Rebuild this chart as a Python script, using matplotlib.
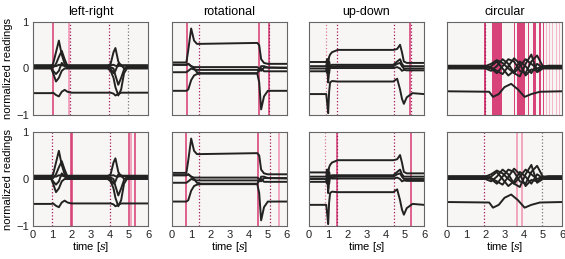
import matplotlib
matplotlib.use("Agg")
import matplotlib.pyplot as plt

plt.rcParams['font.family'] = ['Liberation Sans', 'DejaVu Sans']
plt.rcParams['mathtext.fontset'] = 'dejavuserif'

titles = ['left-right', 'rotational', 'up-down', 'circular']

# ---- sensor channels, key points ----
lr_t = [0, 0.95, 1.05, 1.2, 1.35, 1.5, 1.65, 1.8, 2.0, 3.9, 4.05, 4.2, 4.3, 4.45, 4.6, 4.75, 4.9, 6]
lr_ch = [
    [0.06, 0.06, 0.1, 0.35, 0.6, 0.3, 0.1, 0.06, 0.06, 0.06, 0.1, 0.35, 0.44, 0.15, 0.05, 0.06, 0.06, 0.06],
    [0.04, 0.04, 0.02, 0.1, 0.25, 0.38, 0.2, 0.05, 0.04, 0.04, 0.03, 0.0, -0.15, -0.35, -0.2, -0.02, 0.04, 0.04],
    [0.0, 0.0, -0.1, -0.28, -0.2, -0.05, 0.0, 0.0, 0.0, 0.0, -0.05, -0.2, -0.4, -0.58, -0.45, -0.1, 0.0, 0.0],
    [0.02, 0.02, -0.05, -0.12, -0.05, 0.12, 0.05, 0.02, 0.02, 0.02, 0.0, -0.1, -0.05, 0.1, 0.08, 0.0, 0.02, 0.02],
    [0.07, 0.07, 0.06, 0.05, 0.08, 0.07, 0.06, 0.07, 0.07, 0.07, 0.07, 0.08, 0.06, 0.05, 0.07, 0.07, 0.07, 0.07],
    [-0.53, -0.53, -0.52, -0.57, -0.6, -0.5, -0.46, -0.5, -0.52, -0.52, -0.52, -0.54, -0.58, -0.55, -0.52, -0.52, -0.52, -0.52],
]

rot_t = [0, 0.75, 0.85, 1.0, 1.15, 1.3, 1.5, 4.45, 4.55, 4.65, 4.8, 5.0, 6]
rot_ch = [
    [0.13, 0.13, 0.4, 0.86, 0.6, 0.53, 0.53, 0.55, 0.5, 0.2, 0.12, 0.1, 0.1],
    [0.08, 0.08, 0.1, 0.05, 0.03, 0.03, 0.03, 0.03, 0.0, -0.05, 0.02, 0.02, 0.02],
    [-0.08, -0.08, -0.05, 0.0, -0.02, -0.03, -0.03, -0.03, -0.05, 0.05, 0.05, 0.02, 0.01],
    [0.08, 0.08, 0.1, 0.05, 0.0, -0.08, -0.1, -0.1, -0.03, 0.0, -0.06, -0.06, -0.06],
    [-0.48, -0.48, -0.45, -0.25, -0.15, -0.12, -0.11, -0.11, -0.3, -0.88, -0.6, -0.48, -0.48],
]

ud_t = [0, 0.9, 0.95, 1.0, 1.05, 1.1, 1.2, 1.5, 4.4, 4.6, 4.75, 4.85, 4.95, 5.1, 5.4, 6]
ud_ch = [
    [0.14, 0.14, 0.2, 0.1, 0.25, 0.3, 0.35, 0.4, 0.4, 0.42, 0.51, 0.35, 0.15, 0.12, 0.12, 0.12],
    [0.05, 0.05, 0.2, -0.2, 0.15, 0.05, 0.08, 0.08, 0.08, 0.15, 0.2, 0.1, 0.05, 0.05, 0.05, 0.05],
    [0.0, 0.0, -0.1, 0.15, -0.1, 0.05, 0.04, 0.05, 0.05, 0.1, 0.12, 0.05, 0.0, 0.0, 0.0, 0.0],
    [-0.06, -0.06, 0.1, -0.3, 0.0, 0.02, 0.01, 0.01, 0.01, 0.03, 0.0, -0.05, -0.03, -0.04, -0.04, -0.04],
    [-0.55, -0.55, -0.75, -0.96, -0.5, -0.3, -0.27, -0.28, -0.28, -0.22, -0.45, -0.65, -0.76, -0.62, -0.53, -0.55],
]

circ_t = [0, 2.0, 2.3, 2.6, 2.9, 3.2, 3.5, 3.8, 4.1, 4.4, 4.7, 5.0, 5.3, 6]
circ_ch = [
    [0.05, 0.05, 0.1, 0.18, 0.12, 0.0, -0.1, 0.05, 0.2, 0.1, 0.0, 0.05, 0.05, 0.05],
    [0.03, 0.03, 0.0, -0.1, 0.05, 0.2, 0.15, -0.05, -0.1, 0.15, 0.28, 0.05, 0.03, 0.03],
    [0.01, 0.01, 0.05, 0.15, 0.0, -0.15, -0.05, 0.15, 0.05, -0.1, 0.1, 0.02, 0.01, 0.01],
    [0.06, 0.06, 0.02, -0.05, -0.12, 0.05, 0.22, 0.1, -0.15, -0.02, -0.05, 0.04, 0.06, 0.06],
    [0.0, 0.0, -0.05, 0.05, 0.2, 0.1, -0.1, -0.17, 0.1, 0.3, -0.08, 0.0, 0.0, 0.0],
]
circ_low_t = [0, 2.2, 2.4, 2.7, 3.0, 3.35, 3.7, 4.05, 4.4, 4.85, 6]
circ_low = [-0.49, -0.5, -0.61, -0.55, -0.4, -0.33, -0.45, -0.61, -0.55, -0.5, -0.49]

signals = [
    [(lr_t, c) for c in lr_ch],
    [(rot_t, c) for c in rot_ch],
    [(ud_t, c) for c in ud_ch],
    [(circ_t, c) for c in circ_ch] + [(circ_low_t, circ_low)],
]

# ---- event markers: (time, kind) per panel ----
top_marks = [
    [(1.03, 'solid'), (1.9, 'pink'), (1.95, 'dotted'), (3.98, 'dotted'), (4.94, 'gray')],
    [(0.79, 'solid'), (1.4, 'dotted'), (4.53, 'solid'), (5.05, 'solid'), (5.08, 'dotted')],
    [(0.9, 'lightdot'), (1.46, 'dotted'), (4.44, 'dotted'), (5.28, 'solid'), (5.31, 'dotted')],
    [(1.96, 'dotted')],
]
bottom_marks = [
    [(1.0, 'dotted'), (2.0, 'solid'), (2.02, 'solid'), (4.02, 'dotted'), (5.0, 'solid'), (5.1, 'pink'), (5.33, 'solid')],
    [(0.75, 'solid'), (1.43, 'dotted'), (4.49, 'solid'), (5.1, 'dotted'), (5.56, 'pink')],
    [(0.86, 'lightdot'), (1.46, 'solid'), (1.48, 'dotted'), (4.42, 'dotted'), (5.3, 'solid')],
    [(1.94, 'dotted'), (3.65, 'pink'), (3.9, 'pink'), (4.95, 'gray')],
]
circ_dark_bands = [(1.93, 2.03), (2.34, 2.87), (3.5, 3.56), (3.67, 4.06), (4.2, 4.26),
                   (4.5, 4.62), (4.8, 4.9), (5.0, 5.08)]
circ_light_bands = [(5.15, 5.2), (5.3, 5.36), (5.5, 5.55), (5.68, 5.75), (5.85, 5.9)]

mark_style = {
    'solid': dict(color='#d63a72', lw=1.1, ls='-'),
    'pink': dict(color='#ee8fb0', lw=1.1, ls='-'),
    'dotted': dict(color='#a0185a', lw=0.9, ls=':'),
    'lightdot': dict(color='#d87aa0', lw=0.9, ls=':'),
    'gray': dict(color='#777777', lw=0.9, ls=':'),
}

fig = plt.figure(figsize=(5.65, 2.59), dpi=100)
lefts = [33, 172, 309, 447]
rows = [(22, 115), (132, 226)]

for r, (ytop, ybot) in enumerate(rows):
    marks = top_marks if r == 0 else bottom_marks
    for i in range(4):
        ax = fig.add_axes([lefts[i] / 565, 1 - ybot / 259, 115 / 565, (ybot - ytop) / 259])
        ax.set_facecolor('#f8f6f4')
        if r == 0 and i == 3:
            for a, b in circ_dark_bands:
                ax.axvspan(a, b, color='#d8447a', lw=0)
            for a, b in circ_light_bands:
                ax.axvspan(a, b, color='#f4b8cc', lw=0)
        for t, kind in marks[i]:
            ax.axvline(t, **mark_style[kind])
        for t, v in signals[i]:
            ax.plot(t, v, color='#222222', lw=1.4)
        ax.set_xlim(0, 6)
        ax.set_ylim(-1, 1)
        ax.set_xticks(range(7))
        ax.set_yticks([-1, 0, 1])
        ax.tick_params(length=0, labelsize=8, pad=3, colors='#222222')
        for s in ax.spines.values():
            s.set_color('#666666')
            s.set_linewidth(0.8)
        if r == 0:
            ax.set_title(titles[i], fontsize=9, pad=5)
            ax.set_xticklabels([])
        else:
            ax.set_xlabel('time [$s$]', fontsize=8, labelpad=0)
        if i == 0:
            ax.set_yticklabels(['\u22121', '0', '1'])
            ax.set_ylabel('normalized readings', fontsize=8, labelpad=2)
        else:
            ax.set_yticklabels([])

fig.savefig('out.png', dpi=100)
